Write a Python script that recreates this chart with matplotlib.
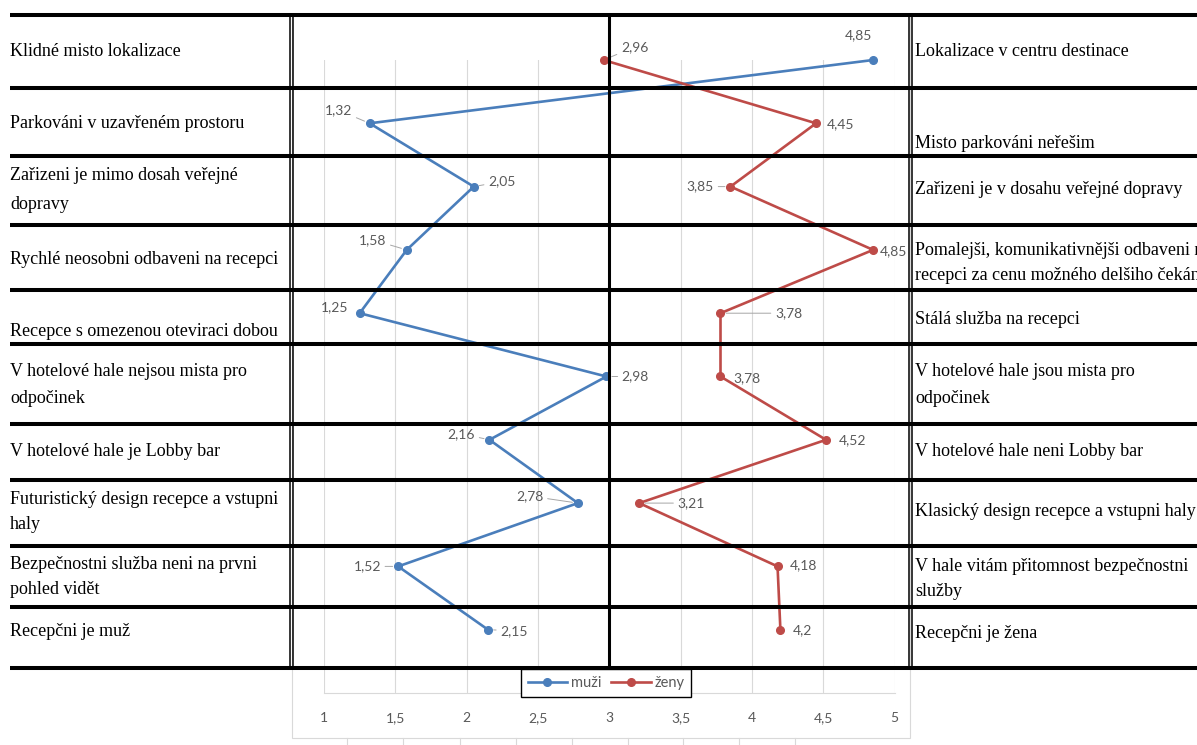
import numpy as np
import matplotlib
matplotlib.use("Agg")
import matplotlib.pyplot as plt
from matplotlib.patches import Rectangle

W, H = 1197, 745

# hodnoty hodnocení (muži / ženy) pro jednotlivé dvojice výroků
left_labels = [
    "Klidné misto lokalizace",
    "Parkováni v uzavřeném prostoru",
    "Zařizeni je mimo dosah veřejné\ndopravy",
    "Rychlé neosobni odbaveni na recepci",
    "Recepce s omezenou oteviraci dobou",
    "V hotelové hale nejsou mista pro\nodpočinek",
    "V hotelové hale je Lobby bar",
    "Futuristický design recepce a vstupni\nhaly",
    "Bezpečnostni služba neni na prvni\npohled vidět",
    "Recepčni je muž",
]
right_labels = [
    "Lokalizace v centru destinace",
    "Misto parkováni neřešim",
    "Zařizeni je v dosahu veřejné dopravy",
    "Pomalejši, komunikativnějši odbaveni na\nrecepci za cenu možného delšiho čekáni",
    "Stálá služba na recepci",
    "V hotelové hale jsou mista pro\nodpočinek",
    "V hotelové hale neni Lobby bar",
    "Klasický design recepce a vstupni haly",
    "V hale vitám přitomnost bezpečnostni\nslužby",
    "Recepčni je žena",
]
muzi = [4.85, 1.32, 2.05, 1.58, 1.25, 2.98, 2.16, 2.78, 1.52, 2.15]
zeny = [2.96, 4.45, 3.85, 4.85, 3.78, 3.78, 4.52, 3.21, 4.18, 4.2]
x_ticks = [1, 1.5, 2, 2.5, 3, 3.5, 4, 4.5, 5]
rows = np.arange(1, len(muzi) + 1)

# rozložení tabulky (pixely)
row_lines = [15, 88, 156, 225, 290, 344, 424, 480, 546, 607, 668]
left_text_y = [52, 123, 190, 259, 331, 385, 452, 512, 577, 631]
left_ls = [1, 1, 1.95, 1, 1, 1.7, 1, 1.65, 1.65, 1]
right_text_y = [52, 143, 190, 263, 320, 385, 452, 512, 579, 633]
right_ls = [1, 1, 1, 1.6, 1, 1.7, 1, 1, 1.55, 1]

# posuny popisků dat (dx, dy v pixelech, odkazová čára)
muzi_off = [(-15, -25, False), (-31, -13, True), (28, -5, True), (-34, -10, True),
            (-25, -6, False), (29, 0, True), (-28, -6, True), (-48, -7, True),
            (-31, 0, True), (26, 1, True)]
zeny_off = [(31, -13, True), (24, 1, False), (-30, 0, True), (20, 1, False),
            (68, 0, True), (26, 2, False), (27, 0, False), (52, 0, True),
            (26, -1, False), (22, 0, False)]

BLUE = "#4a7ebb"
RED = "#be4b48"
GREY = "#595959"
SANS = "Lato"
SERIF = "Liberation Serif"


def fmt(v):
    return ("%g" % v).replace(".", ",")


fig = plt.figure(figsize=(W / 100, H / 100), dpi=100)
fig.patch.set_facecolor("white")

x0, x1, y0, y1 = 324, 894.5, 60, 693
ax = fig.add_axes([x0 / W, 1 - y1 / H, (x1 - x0) / W, (y1 - y0) / H])
ax.set_xlim(1, 5)
ax.set_ylim(11, 1)
ax.set_xticks(x_ticks)
ax.set_xticklabels([fmt(t) for t in x_ticks], family=SANS, va="baseline")
ax.set_yticks([])
ax.tick_params(axis="x", length=0, pad=21, labelsize=10, labelcolor=GREY)
ax.grid(axis="x", color="#d9d9d9", lw=0.8)
for s in ["left", "right", "top"]:
    ax.spines[s].set_visible(False)
ax.spines["bottom"].set_color("#d9d9d9")
ax.spines["bottom"].set_linewidth(0.8)

ax.plot(muzi, rows, color=BLUE, lw=1.9, marker="o", ms=5.5, label="muži", clip_on=False, zorder=3)
ax.plot(zeny, rows, color=RED, lw=1.9, marker="o", ms=5.5, label="ženy", clip_on=False, zorder=3)

for vals, offs in [(muzi, muzi_off), (zeny, zeny_off)]:
    for v, r, (dx, dy, lead) in zip(vals, rows, offs):
        arrow = dict(arrowstyle="-", color="#a6a6a6", lw=0.7, shrinkA=1, shrinkB=4) if lead else None
        ax.annotate(fmt(v), xy=(v, r), xytext=(dx, -dy), textcoords="offset pixels",
                    ha="center", va="center", fontsize=10, color=GREY, family=SANS,
                    arrowprops=arrow, annotation_clip=False, zorder=4)

leg = ax.legend(loc="center", bbox_to_anchor=(606 / W, 1 - 683 / H), bbox_transform=fig.transFigure,
                ncol=2, fancybox=False, edgecolor="black", framealpha=1,
                handlelength=2.7, handletextpad=0.25, columnspacing=0.7, borderpad=0.45,
                borderaxespad=0, prop={"family": SANS, "size": 10.5})
leg.get_frame().set_linewidth(1.0)
for t in leg.get_texts():
    t.set_color(GREY)

# svislá čára tabulky na hodnotě 3
ax.axvline(3, ymin=(y1 - row_lines[-1]) / (y1 - y0), ymax=(y1 - row_lines[0]) / (y1 - y0),
           color="black", lw=2.2, clip_on=False, zorder=5)

# tabulka s výroky
ov = fig.add_axes([0, 0, 1, 1], zorder=5)
ov.set_xlim(0, W)
ov.set_ylim(H, 0)
ov.axis("off")

ov.add_patch(Rectangle((292, 15), 618, 723, fill=False, ec="#d9d9d9", lw=0.8, zorder=1))
for xb in [347, 403, 460, 516, 572, 628, 683, 739, 795]:
    ov.plot([xb, xb], [738, 745], color="#d9d9d9", lw=0.8, zorder=1)

for yl in row_lines:
    ov.plot([10, W], [yl, yl], color="black", lw=2.9, solid_capstyle="butt", zorder=3)
for xv in [290, 293, 909, 912]:
    ov.plot([xv, xv], [row_lines[0], row_lines[-1]], color="black", lw=1.1, zorder=3)

for lab, yy, ls in zip(left_labels, left_text_y, left_ls):
    ov.text(10, yy, lab, ha="left", va="center", fontsize=13, family=SERIF,
            linespacing=ls, color="black", zorder=4)
for lab, yy, ls in zip(right_labels, right_text_y, right_ls):
    ov.text(915, yy, lab, ha="left", va="center", fontsize=13, family=SERIF,
            linespacing=ls, color="black", zorder=4)

fig.savefig("out.png", dpi=100)
